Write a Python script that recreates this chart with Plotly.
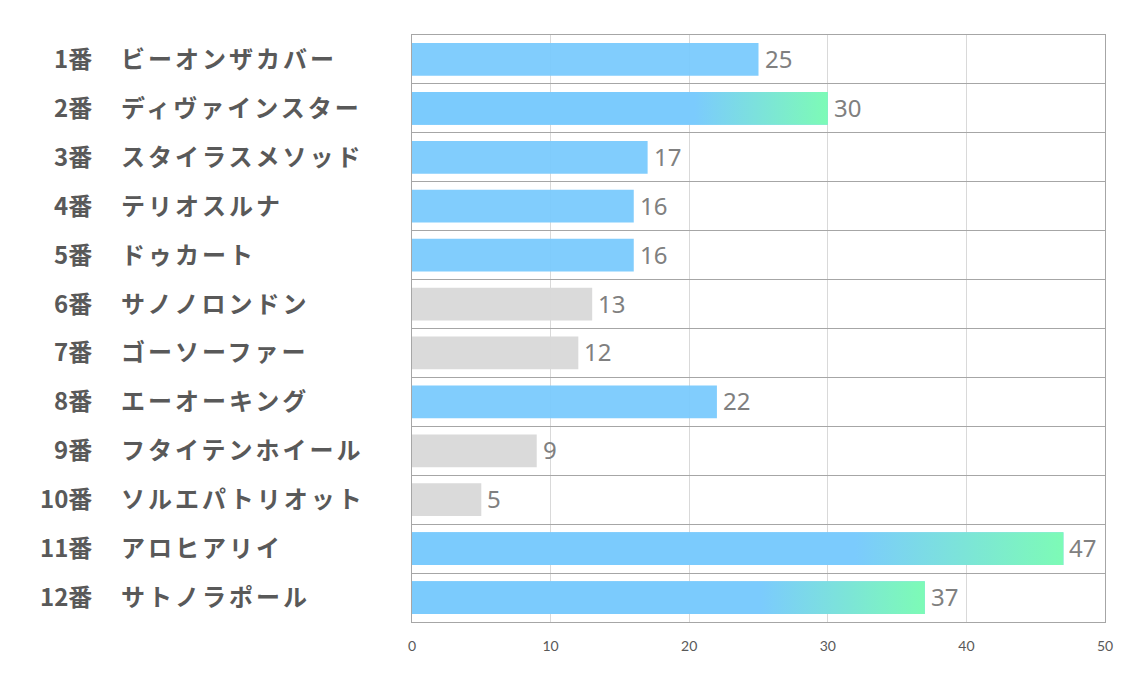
import plotly.graph_objects as go

numbers = ["1番", "2番", "3番", "4番", "5番", "6番", "7番", "8番", "9番", "10番", "11番", "12番"]
names = ["ビーオンザカバー", "ディヴァインスター", "スタイラスメソッド", "テリオスルナ", "ドゥカート",
         "サノノロンドン", "ゴーソーファー", "エーオーキング", "フタイテンホイール", "ソルエパトリオット",
         "アロヒアリイ", "サトノラポール"]
values = [25, 30, 17, 16, 16, 13, 12, 22, 9, 5, 47, 37]
highlight = [True, True, True, True, True, False, False, True, False, False, True, True]
gradient = [False, True, False, False, False, False, False, False, False, False, True, True]

BLUE = "#7BCBFD"
GREEN = "#7DFBB6"
GRAY = "#D9D9D9"
BAR_W = 0.67

idx = list(range(len(values)))
colors = [BLUE if h else GRAY for h in highlight]

fig = go.Figure()
fig.add_trace(go.Bar(
    x=values, y=idx, orientation="h", width=BAR_W,
    marker=dict(color=colors, line=dict(width=0)), opacity=0.95,
    hoverinfo="skip",
))

for i, v in enumerate(values):
    if gradient[i]:
        h = BAR_W / 2
        fig.add_trace(go.Scatter(
            x=[0, v, v, 0, 0], y=[i - h, i - h, i + h, i + h, i - h],
            mode="lines", line=dict(width=0), fill="toself",
            fillgradient=dict(type="horizontal",
                              colorscale=[[0, BLUE], [0.68, BLUE], [1, GREEN]]),
            hoverinfo="skip", showlegend=False,
        ))

annotations = []
for i in idx:
    annotations.append(dict(
        x=(94 - 412) / 693, y=i, xref="paper", yref="y", xanchor="right", yanchor="middle",
        yshift=2, text=numbers[i], showarrow=False,
        font=dict(family="Noto Sans CJK JP", size=24, color="#595959", weight="bold"),
    ))
    annotations.append(dict(
        x=(119 - 412) / 693, y=i, xref="paper", yref="y", xanchor="left", yanchor="middle",
        yshift=2, text='<span style="letter-spacing:3px">' + names[i] + '</span>', showarrow=False,
        font=dict(family="Noto Sans CJK JP", size=24, color="#595959", weight="bold"),
    ))
    annotations.append(dict(
        x=values[i], y=i, xref="x", yref="y", xanchor="left", yanchor="middle",
        xshift=4, yshift=1, text=str(values[i]), showarrow=False,
        font=dict(family="Noto Sans, Open Sans, sans-serif", size=24, color="#808080"),
    ))

fig.update_layout(
    width=1134, height=680,
    margin=dict(l=412, r=29, t=35, b=58),
    plot_bgcolor="white", paper_bgcolor="white",
    showlegend=False, bargap=0.33,
    annotations=annotations,
    xaxis=dict(range=[0, 50], dtick=10, showgrid=True, gridcolor="#D9D9D9", gridwidth=1,
               zeroline=False, showline=True, mirror=True, linecolor="#A6A6A6", linewidth=1,
               ticks="", ticklabelstandoff=11,
               tickfont=dict(family="Lato, Noto Sans, sans-serif", size=14, color="#595959")),
    yaxis=dict(range=[11.5, -0.5], tickmode="array",
               tickvals=[k - 0.5 for k in range(len(values) + 1)],
               showticklabels=False, showgrid=True, gridcolor="#A6A6A6", gridwidth=1,
               zeroline=False, showline=True, mirror=True, linecolor="#A6A6A6", linewidth=1,
               ticks=""),
)

fig.write_html("out.html")
